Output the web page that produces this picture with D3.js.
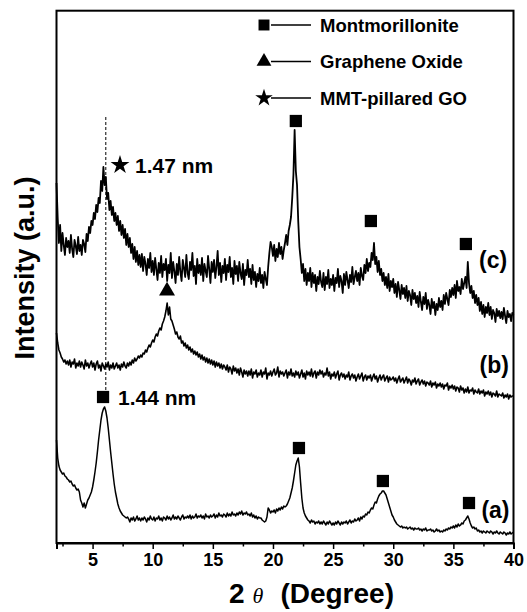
<!DOCTYPE html>
<html><head><meta charset="utf-8">
<script src="https://cdn.jsdelivr.net/npm/d3@7"></script>
<style>
html,body{margin:0;padding:0;background:#fff;}
svg{display:block;font-family:"Liberation Sans",Arial,sans-serif;}
</style></head>
<body>
<svg id="chart" width="527" height="612"></svg>
<script>
// ---- data ----
const twoThetaStart = 2.0, twoThetaStep = 0.1;
const xTicks = [5, 10, 15, 20, 25, 30, 35, 40];
const xMinorTicks = [2.5, 7.5, 12.5, 17.5, 22.5, 27.5, 32.5, 37.5];
const legendLabels = ["Montmorillonite", "Graphene Oxide", "MMT-pillared GO"];
const legendSymbols = ["square", "triangle", "star"];
const curveLabels = ["(a)", "(b)", "(c)"];

// (a) Montmorillonite
const seriesA = [
103,85,77,73,71,69,70,67,66,64,
63,61,62,59,57,58,55,53,54,51,
43,40,36,40,35,39,43,45,48,51,
56,63,71,80,91,103,113,123,130,134,
136,132,125,115,103,91,80,69,59,51,
45,39,35,32,30,28,27,26,25,26,
24,21,25,23,26,22,24,27,23,25,
22,25,23,26,24,21,25,23,27,24,
23,26,22,25,24,27,23,25,22,26,
25,23,27,24,26,23,25,28,24,26,
24,27,25,23,26,28,24,26,25,27,
25,28,24,27,25,26,29,25,27,26,
28,25,27,24,29,26,27,25,28,26,
27,29,25,28,26,30,27,28,26,29,
28,26,30,27,29,27,31,28,29,27,
30,28,31,29,32,28,30,29,31,28,
29,27,30,26,28,25,27,24,26,25,
25,23,22,21,22,26,35,33,30,32,
31,33,30,34,32,35,33,36,34,37,
36,37,39,42,45,50,55,62,70,78,
82,85,76,60,45,35,30,27,25,23,
22,20,23,21,22,19,21,20,22,19,
21,19,22,20,18,21,19,22,20,18,
20,18,21,19,22,20,18,21,19,21,
20,22,19,21,23,20,22,21,24,22,
23,25,22,26,24,27,26,29,28,31,
30,33,35,34,38,41,40,44,47,49,
50,52,52,50,48,44,40,36,32,28,
26,23,21,19,18,17,16,17,15,16,
15,16,14,15,16,14,15,13,15,14,
14,15,13,14,12,14,13,15,12,13,
13,14,12,13,11,12,14,12,13,11,
12,11,13,12,14,13,15,14,16,15,
17,15,18,16,19,17,18,20,19,22,
23,25,27,24,20,17,15,16,14,15,
12,13,11,12,10,12,11,10,12,11,
10,12,11,9,11,10,12,10,9,11,
10,9,11,10,8,10,9,11,9,10,
11];

// (b) Graphene Oxide
const seriesB = [
210,200,193,190,186,184,181,183,179,182,
178,183,176,181,179,184,175,180,177,182,
176,181,178,174,183,177,180,175,179,182,
176,180,173,179,182,175,178,172,180,177,
174,179,176,181,173,178,175,180,174,177,
180,175,178,173,179,176,181,177,175,180,
177,181,178,183,180,185,182,184,187,185,
188,186,190,189,193,191,195,198,196,200,
203,201,206,209,207,212,215,213,219,222,
226,232,240,228,236,224,222,218,214,209,
211,206,204,207,200,202,197,200,195,198,
193,196,191,194,189,192,188,191,186,189,
184,188,183,186,181,185,180,184,179,183,
178,182,176,181,177,180,175,179,174,178,
176,173,178,171,176,174,169,177,172,175,
170,174,168,175,171,166,173,169,172,167,
172,168,174,165,171,169,173,166,170,168,
173,166,171,169,175,164,170,168,172,167,
171,174,168,170,176,166,172,169,171,167,
170,173,165,171,168,174,167,170,166,172,
168,171,165,169,173,166,170,164,172,168,
171,167,174,166,170,172,165,171,168,173,
169,172,166,170,168,175,167,171,164,169,
167,171,165,169,172,163,168,170,166,169,
164,168,166,171,163,167,169,165,168,162,
166,169,164,167,170,162,166,168,163,167,
165,168,162,166,169,164,167,161,165,168,
163,166,168,162,165,167,161,166,163,164,
166,162,165,160,164,167,161,163,165,160,
163,166,160,164,162,158,163,161,165,159,
162,164,158,161,163,159,162,157,161,160,
158,162,156,160,158,161,155,159,157,160,
156,159,154,158,157,160,153,157,155,158,
154,157,152,156,155,151,157,153,155,150,
154,151,156,150,153,152,155,149,153,151,
150,154,149,152,150,153,147,151,149,152,
148,151,146,150,149,147,152,146,149,148,
147,150,145,148,146,149,144,148,146,147,
147];

// (c) MMT-pillared GO
const seriesC = [
360,325,300,318,292,310,298,288,305,296,
302,290,308,294,286,303,297,289,306,292,
298,288,303,299,291,309,302,316,310,322,
318,330,324,338,331,345,340,362,352,376,
358,366,344,350,333,342,328,336,322,330,
318,327,312,322,308,318,305,314,298,309,
296,305,290,299,284,296,281,292,278,288,
276,289,272,286,279,268,284,275,290,271,
282,268,285,274,263,280,270,287,266,279,
273,284,262,278,270,290,265,281,272,260,
279,268,286,271,262,283,275,266,288,270,
264,281,273,290,267,277,259,284,270,278,
268,285,262,279,272,266,287,274,260,281,
271,283,265,276,292,268,280,261,277,270,
284,263,278,271,286,266,275,259,282,269,
277,262,281,270,264,279,258,273,268,283,
266,274,259,278,263,271,256,269,262,275,
260,268,255,271,264,258,276,290,301,296,
287,298,282,294,286,300,289,296,284,293,
300,308,298,312,318,326,345,368,413,372,
358,322,296,284,270,279,262,274,258,270,
262,275,256,270,260,268,252,266,259,272,
261,256,270,253,266,259,273,255,264,258,
268,252,265,260,274,256,267,262,250,269,
258,271,263,255,268,261,276,259,266,272,
262,270,258,275,267,263,278,270,284,272,
280,276,290,283,300,279,286,271,282,268,
274,262,270,258,266,255,269,252,262,256,
264,250,259,246,261,253,244,258,249,255,
245,257,242,252,248,238,253,244,250,240,
247,236,251,241,233,246,239,250,234,243,
238,229,244,235,241,228,239,233,245,236,
242,233,248,239,250,244,238,253,246,255,
248,258,245,262,252,256,249,264,254,260,
266,255,281,260,250,257,245,252,240,248,
238,245,232,241,229,238,226,236,230,240,
228,236,224,233,230,221,234,227,232,225,
231,224,235,227,220,232,226,229,222,230,
228];

// peak markers
const markerTheta  = [5.87, 22.16, 29.14, 36.3, 11.19, 7.28, 21.9, 28.14, 36.04];
const markerValue  = [146, 95, 62, 40, 252, 378, 422, 322, 299];
const markerSymbol = ["square","square","square","square","triangle","star","square","square","square"];
const dSpacingLabels = [{theta: 5.87, value: 146, text: "1.44 nm"}, {theta: 7.28, value: 378, text: "1.47 nm"}];
const curveLabelTheta = [38.5, 38.4, 38.3];
const curveLabelValue = [33, 178, 283];
const refLineTheta = 6.1;
const refLineRange = [148, 426];

// ---- layout ----
const plot = {left: 56.5, right: 513.5, top: 10.7, bottom: 543};
const svg = d3.select("#chart");

const x = d3.scaleLinear().domain([2, 40]).range([plot.left, plot.right]);
const y = d3.scaleLinear().domain([0, 532.3]).range([plot.bottom, plot.top]);

const thetaAt = i => twoThetaStart + i * twoThetaStep;
const toPts = arr => arr.map((v, i) => [thetaAt(i), v]);
const line = d3.line().x(d => x(d[0])).y(d => y(d[1]));

// curves
const g = svg.append("g");
const strokeW = [1.5, 1.6, 1.8];
[seriesA, seriesB, seriesC].forEach((s, i) => {
  g.append("path").datum(toPts(s))
    .attr("d", line).attr("fill", "none")
    .attr("stroke", "#000").attr("stroke-width", strokeW[i])
    .attr("stroke-linejoin", "round");
});

// dashed reference line
svg.append("line")
  .attr("x1", x(refLineTheta)).attr("x2", x(refLineTheta))
  .attr("y1", y(refLineRange[0])).attr("y2", y(refLineRange[1]))
  .attr("stroke", "#000").attr("stroke-width", 1).attr("stroke-dasharray", "3,2");

// frame
svg.append("rect").attr("x", plot.left).attr("y", plot.top)
  .attr("width", plot.right - plot.left).attr("height", plot.bottom - plot.top)
  .attr("fill", "none").attr("stroke", "#000").attr("stroke-width", 2);

// x axis
const xAxis = d3.axisBottom(x).tickValues(xTicks).tickSize(6).tickPadding(4);
const ax = svg.append("g").attr("transform", `translate(0,${plot.bottom})`).call(xAxis);
ax.select(".domain").attr("stroke-width", 2);
ax.selectAll(".tick line").attr("stroke-width", 1.5);
ax.selectAll(".tick text").attr("font-family", "Liberation Sans, Arial, sans-serif")
  .attr("font-size", 18).attr("font-weight", "bold").attr("fill", "#000");
const axm = svg.append("g").attr("transform", `translate(0,${plot.bottom})`)
  .call(d3.axisBottom(x).tickValues(xMinorTicks).tickSize(3.5).tickFormat(""));
axm.select(".domain").remove();
axm.selectAll(".tick line").attr("stroke-width", 1.5);

// symbols
const sym = {square: d3.symbolSquare, triangle: d3.symbolTriangle, star: d3.symbolStar};
const symSize = {square: 150, triangle: 110, star: 110};
function drawSym(t, cx, cy, k) {
  svg.append("path")
    .attr("d", d3.symbol().type(sym[t]).size(k || symSize[t])())
    .attr("transform", `translate(${cx},${cy})`).attr("fill", "#000");
}
markerTheta.forEach((t, i) => drawSym(markerSymbol[i], x(t), y(markerValue[i])));

// d-spacing labels
dSpacingLabels.forEach(d => {
  svg.append("text").attr("x", x(d.theta) + 15).attr("y", y(d.value))
    .attr("dy", "0.36em").attr("font-size", 21).attr("font-weight", "bold")
    .text(d.text);
});

// curve labels
curveLabels.forEach((l, i) => {
  svg.append("text").attr("x", x(curveLabelTheta[i])).attr("y", y(curveLabelValue[i]))
    .attr("text-anchor", "middle").attr("dy", "0.36em")
    .attr("font-size", 23).attr("font-weight", "bold").text(l);
});

// legend
legendLabels.forEach((l, i) => {
  const cy = 25 + i * 36.5;
  drawSym(legendSymbols[i], 264, cy, legendSymbols[i] === "square" ? 120 : 95);
  svg.append("line").attr("x1", 271).attr("x2", 311).attr("y1", cy).attr("y2", cy)
    .attr("stroke", "#000").attr("stroke-width", 1.5);
  svg.append("text").attr("x", 320).attr("y", cy).attr("dy", "0.36em")
    .attr("font-size", 18.5).attr("font-weight", "bold").text(l);
});

// axis titles
const xt = svg.append("text").attr("x", 229).attr("y", 603).attr("font-weight", "bold").attr("font-size", 28);
xt.append("tspan").text("2");
xt.append("tspan").attr("dx", 8).attr("font-family", "Liberation Serif, Times New Roman, serif")
  .attr("font-style", "italic").attr("font-weight", "normal").attr("font-size", 22).text("θ");
xt.append("tspan").attr("dx", 17).text("(Degree)");

svg.append("text").attr("transform", `translate(34,268) rotate(-90)`)
  .attr("text-anchor", "middle").attr("font-size", 27).attr("font-weight", "bold")
  .text("Intensity (a.u.)");
</script>
</body></html>
